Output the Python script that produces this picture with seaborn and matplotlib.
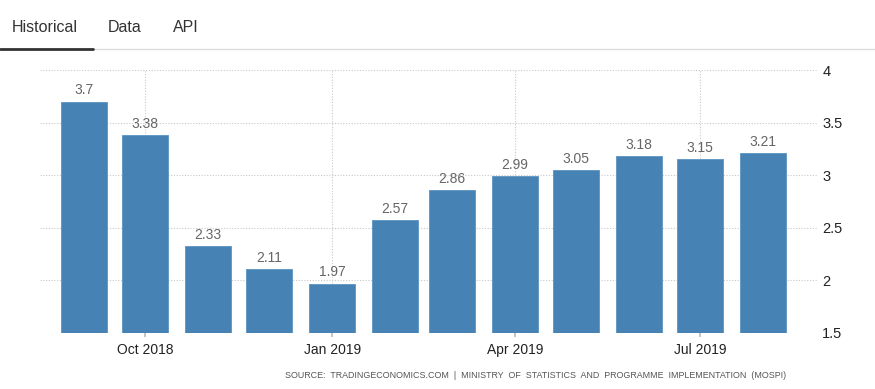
import matplotlib
matplotlib.use("Agg")
import matplotlib.pyplot as plt
import matplotlib.dates as mdates
import seaborn as sns
import pandas as pd
import datetime as dt

months = ["2018-09-01", "2018-10-01", "2018-11-01", "2018-12-01", "2019-01-01", "2019-02-01",
          "2019-03-01", "2019-04-01", "2019-05-01", "2019-06-01", "2019-07-01", "2019-08-01"]
values = [3.7, 3.38, 2.33, 2.11, 1.97, 2.57, 2.86, 2.99, 3.05, 3.18, 3.15, 3.21]
tick_dates = ["2018-10-01", "2019-01-01", "2019-04-01", "2019-07-01"]
tick_labels = ["Oct 2018", "Jan 2019", "Apr 2019", "Jul 2019"]
y_ticks = [1.5, 2, 2.5, 3, 3.5, 4]
tabs = ["Historical", "Data", "API"]
source = "SOURCE:  TRADINGECONOMICS.COM  |  MINISTRY  OF  STATISTICS  AND  PROGRAMME  IMPLEMENTATION  (MOSPI)"

sns.set_theme(style="white")
plt.rcParams["font.family"] = ["Liberation Sans", "DejaVu Sans"]

to_num = lambda s: mdates.date2num(dt.datetime.strptime(s, "%Y-%m-%d"))
df = pd.DataFrame({"x": [to_num(m) for m in months], "y": values})

fig = plt.figure(figsize=(8.75, 3.89), dpi=100)
ax = fig.add_axes([40 / 875, 56 / 389, 778 / 875, 263 / 389])

sns.barplot(data=df, x="x", y="y", native_scale=True, width=0.81,
            color="#4682b4", saturation=1, edgecolor="#5b93c4", linewidth=0.6, ax=ax, zorder=3)

x0 = to_num("2018-08-10") + 0.3
ax.set_ylim(1.5, 4)
ax.set_xlim(x0, x0 + 778 / 2.033)
ax.set_yticks(y_ticks)
ax.set_yticklabels([f"{t:g}" for t in y_ticks], fontsize=10.5, color="#222222")
ax.yaxis.tick_right()
ax.set_xticks([to_num(t) for t in tick_dates])
ax.set_xticklabels(tick_labels, fontsize=10, color="#222222")
ax.tick_params(axis="y", length=0, pad=3)
ax.tick_params(axis="x", length=3, color="#bbbbbb", pad=4, bottom=True)
ax.grid(True, color="#c8c8c8", linestyle=(0, (1, 1.5)), linewidth=0.8, zorder=0)
ax.set_axisbelow(True)
for s in ax.spines.values():
    s.set_visible(False)
ax.set_xlabel("")
ax.set_ylabel("")

for c in ax.containers:
    ax.bar_label(c, labels=[f"{v:g}" for v in values], padding=3, fontsize=10, color="#666666")

# tabs header
fig.text(12 / 875, 1 - 28 / 389, tabs[0], fontsize=11.5, color="#333333", va="center", ha="left")
fig.text(108 / 875, 1 - 28 / 389, tabs[1], fontsize=11.5, color="#333333", va="center", ha="left")
fig.text(173 / 875, 1 - 28 / 389, tabs[2], fontsize=11.5, color="#333333", va="center", ha="left")
fig.add_artist(plt.Line2D([93 / 875, 1], [1 - 49 / 389] * 2, color="#dddddd", linewidth=1))
fig.add_artist(plt.Line2D([0, 93 / 875], [1 - 48.5 / 389] * 2, color="#333333", linewidth=2))

fig.text(786 / 875, 1 - 376 / 389, source, fontsize=6.4, color="#555555", ha="right", va="center")

fig.savefig("out.png", dpi=100)
